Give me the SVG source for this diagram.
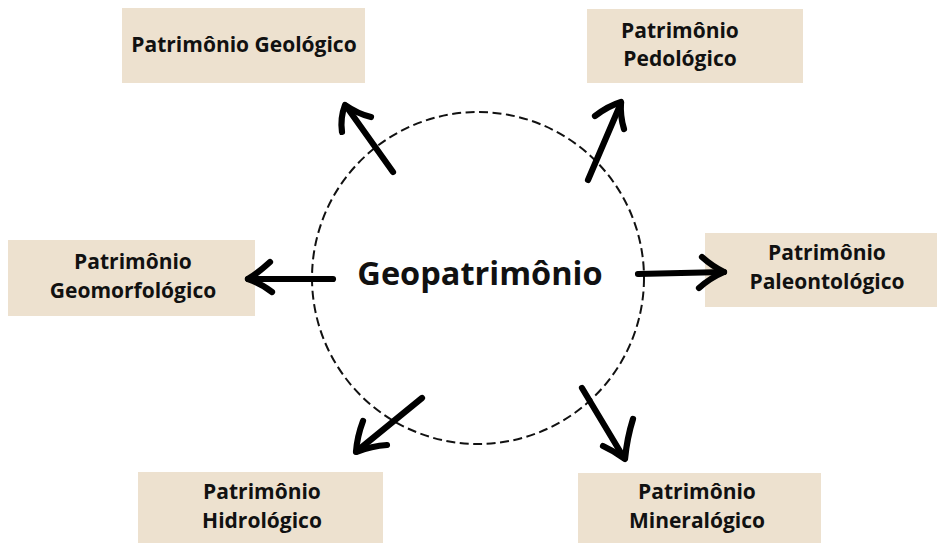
<svg xmlns="http://www.w3.org/2000/svg" width="937" height="543" viewBox="0 0 937 543">
<style>
.box{fill:#EDE1CF;}
.t{font-family:"Open Sans","Noto Sans","DejaVu Sans",sans-serif;font-weight:700;font-size:21px;fill:#111;text-anchor:middle;}
.main{font-family:"Open Sans","Noto Sans","DejaVu Sans",sans-serif;font-weight:700;font-size:32.5px;fill:#111;text-anchor:middle;}
.arr{fill:none;stroke:#000;stroke-width:6.2;stroke-linecap:round;stroke-linejoin:round;}
.circ{fill:none;stroke:#111;stroke-width:2;stroke-dasharray:9 4.5;}
</style>
<rect width="937" height="543" fill="#fff"/>
<g id="center">
<circle class="circ" cx="478" cy="278" r="166"/>
<text class="main" x="480" y="285">Geopatrimônio</text>
</g>
<g id="geologico">
<rect class="box" x="122" y="8" width="243" height="75"/>
<text class="t" x="244" y="52">Patrimônio Geológico</text>
</g>
<g id="pedologico">
<rect class="box" x="587" y="9" width="216" height="74"/>
<text class="t" x="680" y="38">Patrimônio</text>
<text class="t" x="680" y="66">Pedológico</text>
</g>
<g id="geomorfologico">
<rect class="box" x="8" y="240" width="247" height="76"/>
<text class="t" x="133" y="269">Patrimônio</text>
<text class="t" x="133" y="298">Geomorfológico</text>
</g>
<g id="paleontologico">
<rect class="box" x="705" y="233" width="232" height="74"/>
<text class="t" x="827" y="260">Patrimônio</text>
<text class="t" x="827" y="289">Paleontológico</text>
</g>
<g id="hidrologico">
<rect class="box" x="138" y="472" width="245" height="71"/>
<text class="t" x="262" y="499">Patrimônio</text>
<text class="t" x="262" y="528">Hidrológico</text>
</g>
<g id="mineralogico">
<rect class="box" x="578" y="473" width="243" height="70"/>
<text class="t" x="697" y="499">Patrimônio</text>
<text class="t" x="697" y="528">Mineralógico</text>
</g>
<g id="connectors">
<path class="arr" d="M393,172 L346,106"/>
<path class="arr" d="M342,132 Q340,118 345,105 Q358,114 371,117"/>
<path class="arr" d="M588,180 L621,103"/>
<path class="arr" d="M595,116 Q608,106 621,102 Q620,116 624,129"/>
<path class="arr" d="M333,279 L248,279"/>
<path class="arr" d="M270,262 Q258,273 248,279 Q262,284 272,292"/>
<path class="arr" d="M638,274 L724,272"/>
<path class="arr" d="M702,257 Q712,266 724,272 Q710,278 699,288"/>
<path class="arr" d="M422,398 L357,451"/>
<path class="arr" d="M363,421 Q357,437 356,452 Q372,446 387,445"/>
<path class="arr" d="M582,388 L624,458"/>
<path class="arr" d="M603,446 Q614,451 625,459 Q627,438 633,419"/>
</g>
</svg>
